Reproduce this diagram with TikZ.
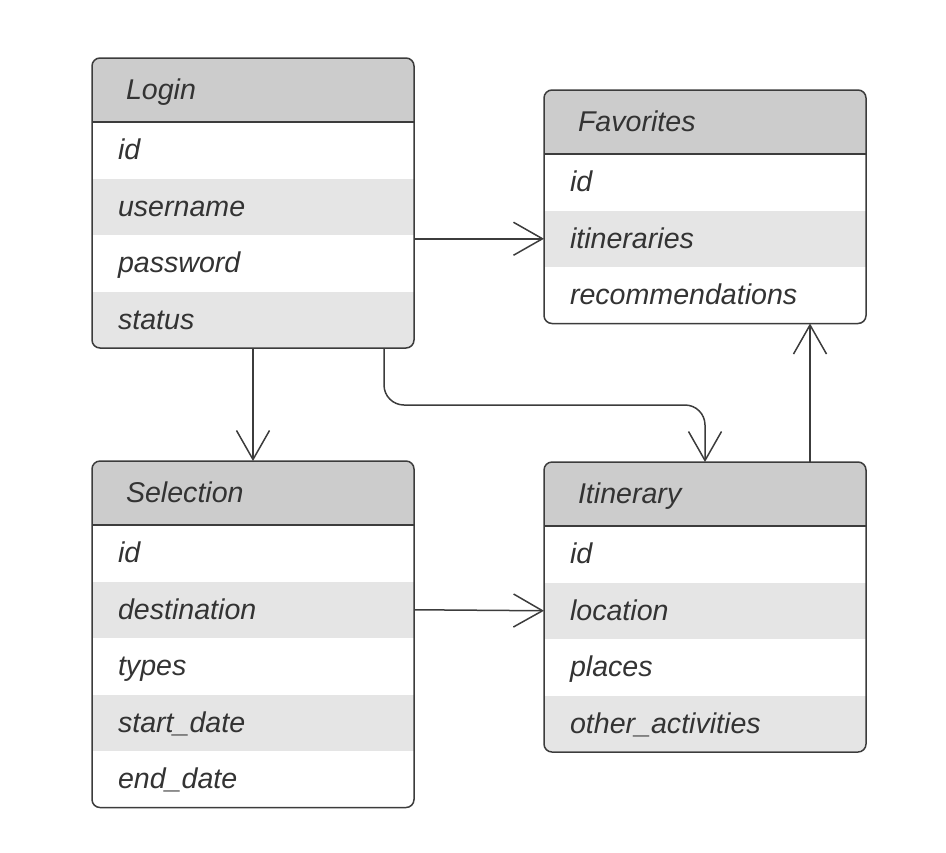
\documentclass[tikz,border=0pt]{standalone}
\usepackage{fontspec}
\setmainfont{Liberation Sans}
\usetikzlibrary{positioning,calc,arrows.meta}
\definecolor{erline}{HTML}{3C3C3C}
\definecolor{erhead}{HTML}{CCCCCC}
\definecolor{erstripe}{HTML}{E5E5E5}
\definecolor{ertext}{HTML}{333333}
\tikzset{
  cellfont/.style={font=\fontsize{14.3}{17}\selectfont\itshape, text=ertext,
    text height=11.5pt, text depth=2pt, inner ysep=0pt, outer sep=0pt, align=left},
  tablehead/.style={cellfont, anchor=north west, minimum height=32pt,
    text width=127pt, inner xsep=17pt, fill=erhead},
  rowwhite/.style={cellfont, minimum height=28.25pt, text width=135pt,
    inner xsep=13pt, fill=white},
  rowgray/.style={rowwhite, fill=erstripe},
  tableframe/.style={draw=erline, line width=0.75pt, rounded corners=4pt},
  headline/.style={draw=erline, line width=0.75pt},
  link/.style={draw=erline, line width=0.75pt,
    -{Straight Barb[length=14.5pt,width=16.5pt]}}
}
\begin{document}
\begin{tikzpicture}[x=0.5pt,y=-0.5pt]
	\useasboundingbox (0,0) rectangle (946,852);
	
	% Login
	\begin{scope}
		\clip[rounded corners=4pt] (92,58) rectangle (414,348);
		\node[tablehead] (login) at (92,58) {Login};
		\node[rowwhite, below=0pt of login] (loginid) {id};
		\node[rowgray, below=0pt of loginid] (loginuser) {username};
		\node[rowwhite, below=0pt of loginuser] (loginpass) {password};
		\node[rowgray, below=0pt of loginpass] (loginstatus) {status};
	\end{scope}
	\draw[tableframe] (login.north west) rectangle (loginstatus.south east);
	\draw[headline] (login.south west) -- (login.south east);
	
	% Favorites
	\begin{scope}
		\clip[rounded corners=4pt] (544,90) rectangle (866,324);
		\node[tablehead] (fav) at (544,90) {Favorites};
		\node[rowwhite, below=0pt of fav] (favid) {id};
		\node[rowgray, below=0pt of favid] (favitin) {itineraries};
		\node[rowwhite, below=0pt of favitin] (favrec) {recommendations};
	\end{scope}
	\draw[tableframe] (fav.north west) rectangle (favrec.south east);
	\draw[headline] (fav.south west) -- (fav.south east);
	
	% Selection
	\begin{scope}
		\clip[rounded corners=4pt] (92,461) rectangle (414,807);
		\node[tablehead] (sel) at (92,461) {Selection};
		\node[rowwhite, below=0pt of sel] (selid) {id};
		\node[rowgray, below=0pt of selid] (seldest) {destination};
		\node[rowwhite, below=0pt of seldest] (seltypes) {types};
		\node[rowgray, below=0pt of seltypes] (selstart) {start\_date};
		\node[rowwhite, below=0pt of selstart] (selend) {end\_date};
	\end{scope}
	\draw[tableframe] (sel.north west) rectangle (selend.south east);
	\draw[headline] (sel.south west) -- (sel.south east);
	
	% Itinerary
	\begin{scope}
		\clip[rounded corners=4pt] (544,462) rectangle (866,751);
		\node[tablehead] (itin) at (544,462) {Itinerary};
		\node[rowwhite, below=0pt of itin] (itinid) {id};
		\node[rowgray, below=0pt of itinid] (itinloc) {location};
		\node[rowwhite, below=0pt of itinloc] (itinplaces) {places};
		\node[rowgray, below=0pt of itinplaces] (itinother) {other\_activities};
	\end{scope}
	\draw[tableframe] (itin.north west) rectangle (itinother.south east);
	\draw[headline] (itin.south west) -- (itin.south east);
	
	% links
	\draw[link] (favitin.west -| loginid.east) -- (favitin.west);
	\draw[link] (loginstatus.south) -- (sel.north);
	\draw[link] (seldest.east) -- (itinloc.west);
	\coordinate (lbend) at ($(loginstatus.south east)+(-30,0)$);
	\draw[link, rounded corners=10pt] (lbend) -- ++(0,57) -| (itin.north);
	\coordinate (ibend) at ($(itin.north east)+(-56,0)$);
	\draw[link] (ibend) -- (ibend |- favrec.south);
\end{tikzpicture}
\end{document}
